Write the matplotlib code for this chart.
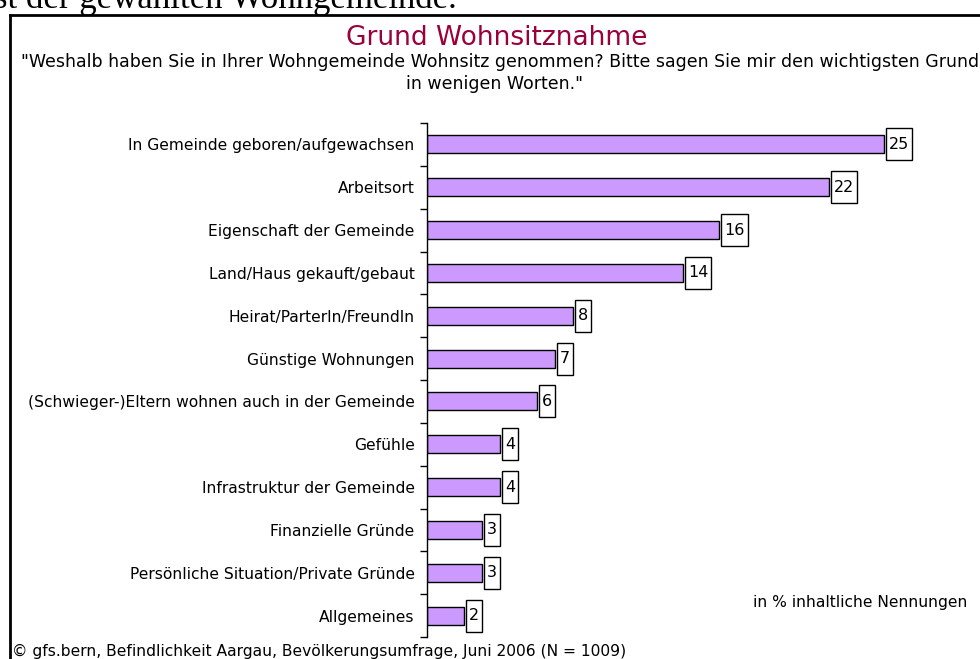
import matplotlib.pyplot as plt
from matplotlib.lines import Line2D
from matplotlib.patches import Rectangle
from matplotlib.transforms import IdentityTransform
import numpy as np

# Daten
kategorien = [
    "In Gemeinde geboren/aufgewachsen",
    "Arbeitsort",
    "Eigenschaft der Gemeinde",
    "Land/Haus gekauft/gebaut",
    "Heirat/ParterIn/FreundIn",
    "Günstige Wohnungen",
    "(Schwieger-)Eltern wohnen auch in der Gemeinde",
    "Gefühle",
    "Infrastruktur der Gemeinde",
    "Finanzielle Gründe",
    "Persönliche Situation/Private Gründe",
    "Allgemeines",
]
werte = [25, 22, 16, 14, 8, 7, 6, 4, 4, 3, 3, 2]

titel = "Grund Wohnsitznahme"
frage_1 = "\"Weshalb haben Sie in Ihrer Wohngemeinde Wohnsitz genommen? Bitte sagen Sie mir den wichtigsten Grund"
frage_2 = "in wenigen Worten.\""
einheit = "in % inhaltliche Nennungen"
quelle = "© gfs.bern, Befindlichkeit Aargau, Bevölkerungsumfrage, Juni 2006 (N = 1009)"
kopf = "st der gewählten Wohngemeinde."

W, H = 980, 659
plt.rcParams['font.family'] = ['DejaVu Sans']
fig = plt.figure(figsize=(W / 100, H / 100), dpi=100)

# Rahmen (links und oben)
fig.add_artist(Line2D([10 / W, 10 / W], [0, 1 - 15 / H], color='black', lw=2))
fig.add_artist(Line2D([10 / W, 1], [1 - 15 / H, 1 - 15 / H], color='black', lw=2))

# abgeschnittener Text oben
fig.text(-6 / W, 1 - 8 / H, kopf, family='Liberation Serif', fontsize=25,
         ha='left', va='baseline')

fig.text(497 / W, 1 - 38 / H, titel, color='#99003C', fontsize=19, ha='center', va='center')
fig.text(500 / W, 1 - 62 / H, frage_1, fontsize=12.5, ha='center', va='center')
fig.text(495 / W, 1 - 84 / H, frage_2, fontsize=12.5, ha='center', va='center')
fig.text(967 / W, 1 - 603 / H, einheit, fontsize=11.2, ha='right', va='center')
fig.text(12 / W, 1 - 651 / H, quelle, fontsize=11.2, ha='left', va='center')

# Achse
x0, x1 = 427, 975
y_top, y_bot = 123, 637
ax = fig.add_axes([x0 / W, 1 - y_bot / H, (x1 - x0) / W, (y_bot - y_top) / H])
xmax = (x1 - x0) / ((884 - 427) / 25)

pos = np.arange(len(kategorien))
ax.barh(pos, werte, height=0.42, color='#CC99FF', edgecolor='black', linewidth=1)

ax.set_xlim(0, xmax)
ax.set_ylim(len(kategorien) - 0.5, -0.5)
ax.set_yticks(pos)
ax.set_yticklabels(kategorien, fontsize=11.2)
ax.set_yticks(np.arange(len(kategorien) + 1) - 0.5, minor=True)
ax.tick_params(axis='y', which='major', length=0, pad=9)
ax.tick_params(axis='y', which='minor', length=5, width=1, direction='out')
ax.set_xticks([])
for s in ['top', 'right', 'bottom']:
    ax.spines[s].set_visible(False)
ax.spines['left'].set_linewidth(1)
ax.patch.set_alpha(0)

# Wertelabels mit hohem Kasten
texte = []
for p, v in zip(pos, werte):
    t = ax.annotate(str(v), xy=(v, p), xytext=(5, 0), textcoords='offset pixels',
                    ha='left', va='center', fontsize=11.5, zorder=5)
    texte.append(t)

renderer = fig.canvas.get_renderer()
for t, p, v in zip(texte, pos, werte):
    bb = t.get_window_extent(renderer)
    px, py = ax.transData.transform((v, p))
    r = Rectangle((px + 2, py - 16), bb.width + 6, 32, transform=IdentityTransform(),
                  fc='white', ec='black', lw=1, zorder=4, clip_on=False)
    ax.add_artist(r)

fig.savefig('out.png', dpi=100)
